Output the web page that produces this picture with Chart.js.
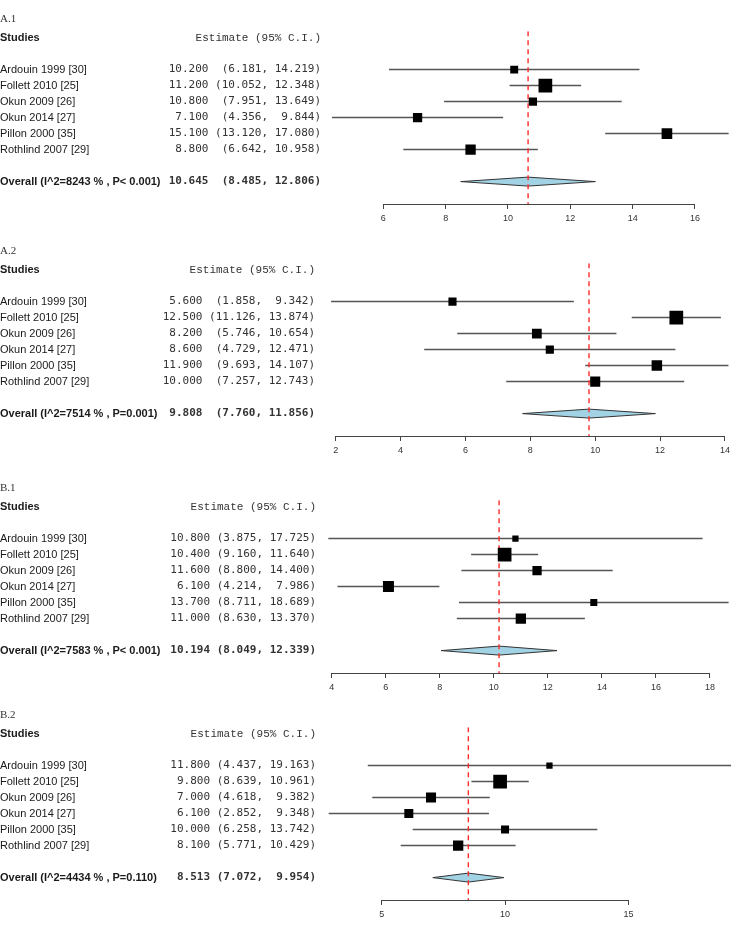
<!DOCTYPE html>
<html>
<head>
<meta charset="utf-8">
<script src="https://cdn.jsdelivr.net/npm/chart.js@4.4.0/dist/chart.umd.min.js"></script>
<style>
body { margin: 0; background: #fff; width: 750px; height: 936px; position: relative; overflow: hidden; }
canvas { position: absolute; left: 0; }
</style>
</head>
<body>
<canvas id="a1" width="750" height="225" style="top:9px"></canvas>
<canvas id="a2" width="750" height="225" style="top:241px"></canvas>
<canvas id="b1" width="750" height="225" style="top:478px"></canvas>
<canvas id="b2" width="750" height="225" style="top:705px"></canvas>
<script>
const studies = ["Ardouin 1999 [30]", "Follett 2010 [25]", "Okun 2009 [26]", "Okun 2014 [27]", "Pillon 2000 [35]", "Rothlind 2007 [29]"];

// A.1
const estA1 = [10.2, 11.2, 10.8, 7.1, 15.1, 8.8];
const lowA1 = [6.181, 10.052, 7.951, 4.356, 13.12, 6.642];
const highA1 = [14.219, 12.348, 13.649, 9.844, 17.08, 10.958];
const weightA1 = [13.2, 22.8, 13.7, 15.4, 17.7, 17.2];
const overallA1 = [10.645, 8.485, 12.806];
const statA1 = "Overall (I^2=8243 % , P< 0.001)";
const ticksA1 = [6, 8, 10, 12, 14, 16];

// A.2
const estA2 = [5.6, 12.5, 8.2, 8.6, 11.9, 10.0];
const lowA2 = [1.858, 11.126, 5.746, 4.729, 9.693, 7.257];
const highA2 = [9.342, 13.874, 10.654, 12.471, 14.107, 12.743];
const weightA2 = [13.5, 22.7, 16.2, 13.5, 17.4, 16.7];
const overallA2 = [9.808, 7.76, 11.856];
const statA2 = "Overall (I^2=7514 % , P=0.001)";
const ticksA2 = [2, 4, 6, 8, 10, 12, 14];

// B.1
const estB1 = [10.8, 10.4, 11.6, 6.1, 13.7, 11.0];
const lowB1 = [3.875, 9.16, 8.8, 4.214, 8.711, 8.63];
const highB1 = [17.725, 11.64, 14.4, 7.986, 18.689, 13.37];
const weightB1 = [10.9, 23.8, 16.1, 19.1, 12.2, 17.9];
const overallB1 = [10.194, 8.049, 12.339];
const statB1 = "Overall (I^2=7583 % , P< 0.001)";
const ticksB1 = [4, 6, 8, 10, 12, 14, 16, 18];

// B.2
const estB2 = [11.8, 9.8, 7.0, 6.1, 10.0, 8.1];
const lowB2 = [4.437, 8.639, 4.618, 2.852, 6.258, 5.771];
const highB2 = [19.163, 10.961, 9.382, 9.348, 13.742, 10.429];
const weightB2 = [11.0, 23.9, 17.5, 15.7, 14.0, 18.0];
const overallB2 = [8.513, 7.072, 9.954];
const statB2 = "Overall (I^2=4434 % , P=0.110)";
const ticksB2 = [5, 10, 15];

// rows: header 0, studies 2..7, overall 9
const rows = [0, 2, 3, 4, 5, 6, 7, 9];

function fmtA(e, l, h) {
  return e.toFixed(3).padStart(6) + " " + ("(" + l.toFixed(3)).padStart(7) + ", " + h.toFixed(3).padStart(6) + ")";
}
function fmtB(e, l, h) {
  return e.toFixed(3).padStart(6) + " (" + l.toFixed(3) + ", " + h.toFixed(3).padStart(6) + ")";
}

const axisLine = {
  id: "axisLine",
  afterDraw(chart) {
    const s = chart.scales.x;
    const t = s.ticks;
    const ctx = chart.ctx;
    const y = Math.round(s.top) + 0.5;
    ctx.save();
    ctx.strokeStyle = "#444";
    ctx.lineWidth = 1;
    ctx.beginPath();
    ctx.moveTo(s.getPixelForValue(t[0].value), y);
    ctx.lineTo(s.getPixelForValue(t[t.length - 1].value), y);
    ctx.stroke();
    ctx.restore();
  }
};

function forest(id, p) {
  const fmt = p.style === "A" ? fmtA : fmtB;
  const names = ["Studies"].concat(studies, [p.stat]);
  const ests = ["Estimate (95% C.I.)"].concat(p.est.map((e, i) => fmt(e, p.low[i], p.high[i])), [fmt(p.overall[0], p.overall[1], p.overall[2])]);
  const m = p.overall[0], lo = p.overall[1], hi = p.overall[2];
  const wmax = Math.max(...p.weight);

  const datasets = [];
  // boxes
  datasets.push({
    data: p.est.map((e, i) => ({ x: e, y: i + 2 })),
    pointStyle: "rect",
    pointRadius: p.weight.map(w => 13.7 * w / wmax / Math.SQRT2),
    pointHoverRadius: p.weight.map(w => 13.7 * w / wmax / Math.SQRT2),
    pointBackgroundColor: "#000",
    pointBorderWidth: 0,
    showLine: false,
    order: 0
  });
  // summary line
  datasets.push({
    data: [{ x: m, y: -0.4 }, { x: m, y: 10.4 }],
    showLine: true,
    borderColor: "#ff2a2a",
    borderWidth: 1.4,
    borderDash: [5, 4],
    pointRadius: 0,
    order: 1
  });
  // diamond
  datasets.push({
    data: [{ x: lo, y: 9 }, { x: m, y: 8.72 }, { x: hi, y: 9 }, { x: m, y: 9.28 }, { x: lo, y: 9 }],
    showLine: true,
    fill: "shape",
    backgroundColor: "#a2d3e5",
    borderColor: "#333",
    borderWidth: 1,
    pointRadius: 0,
    tension: 0,
    order: 2
  });
  // confidence intervals
  p.est.forEach((e, i) => {
    datasets.push({
      data: [{ x: p.low[i], y: i + 2 }, { x: p.high[i], y: i + 2 }],
      showLine: true,
      borderColor: "#555",
      borderWidth: 1.5,
      pointRadius: 0,
      order: 3
    });
  });

  new Chart(document.getElementById(id), {
    type: "scatter",
    data: { datasets: datasets },
    plugins: [axisLine],
    options: {
      responsive: false,
      animation: false,
      devicePixelRatio: 1,
      events: [],
      layout: { padding: { left: 0, right: 10, top: 0, bottom: 0 } },
      plugins: {
        legend: { display: false },
        tooltip: { enabled: false },
        title: {
          display: true,
          text: p.title,
          align: "start",
          color: "#333",
          font: { family: "Liberation Serif", size: 11, weight: "normal" },
          padding: { top: 4, bottom: 5 }
        }
      },
      scales: {
        x: {
          type: "linear",
          min: p.xmin,
          max: p.xmax,
          afterBuildTicks: s => { s.ticks = p.ticks.map(v => ({ value: v })); },
          afterFit: s => { s.height = 30; s.paddingLeft = 0; s.paddingRight = 0; },
          grid: { drawOnChartArea: false, drawTicks: true, tickLength: 5, color: "#444", lineWidth: 1 },
          border: { display: false },
          ticks: { padding: 4, color: "#333", maxRotation: 0, autoSkip: false, font: { family: "Liberation Sans", size: 9 } }
        },
        y: {
          type: "linear",
          position: "left",
          weight: 10,
          reverse: true,
          min: -0.4,
          max: 10.4,
          afterBuildTicks: s => { s.ticks = rows.map(v => ({ value: v })); },
          afterFit: s => { s.width = 162; s.paddingTop = 0; s.paddingBottom = 0; },
          grid: { display: false, drawTicks: false },
          border: { display: false },
          ticks: {
            crossAlign: "far",
            padding: 0,
            autoSkip: false,
            color: "#1a1a1a",
            callback: (v, i) => names[i],
            font: c => ({ family: "Liberation Sans", size: 11, weight: (c.index === 0 || c.index === 7) ? "bold" : "normal" })
          }
        },
        y2: {
          type: "linear",
          position: "left",
          weight: 5,
          reverse: true,
          min: -0.4,
          max: 10.4,
          afterBuildTicks: s => { s.ticks = rows.map(v => ({ value: v })); },
          afterFit: s => { s.width = 163; s.paddingTop = 0; s.paddingBottom = 0; },
          grid: { display: false, drawTicks: false },
          border: { display: false },
          ticks: {
            crossAlign: "near",
            padding: p.estPad,
            autoSkip: false,
            color: "#333",
            callback: (v, i) => ests[i],
            font: c => c.index === 0
              ? { family: "Liberation Mono", size: 11, weight: "normal" }
              : { family: "DejaVu Sans Mono", size: 11, weight: c.index === 7 ? "bold" : "normal" }
          }
        }
      }
    }
  });
}

forest("a1", { title: "A.1", style: "A", est: estA1, low: lowA1, high: highA1, weight: weightA1, overall: overallA1, stat: statA1, ticks: ticksA1, xmin: 4.130, xmax: 17.444, estPad: 4 });
forest("a2", { title: "A.2", style: "A", est: estA2, low: lowA2, high: highA2, weight: weightA2, overall: overallA2, stat: statA2, ticks: ticksA2, xmin: 1.670, xmax: 14.463, estPad: 10 });
forest("b1", { title: "B.1", style: "B", est: estB1, low: lowB1, high: highB1, weight: weightB1, overall: overallB1, stat: statB1, ticks: ticksB1, xmin: 3.752, xmax: 19.111, estPad: 9 });
forest("b2", { title: "B.2", style: "B", est: estB2, low: lowB2, high: highB2, weight: weightB2, overall: overallB2, stat: statB2, ticks: ticksB2, xmin: 2.702, xmax: 19.524, estPad: 9 });
</script>
</body>
</html>
